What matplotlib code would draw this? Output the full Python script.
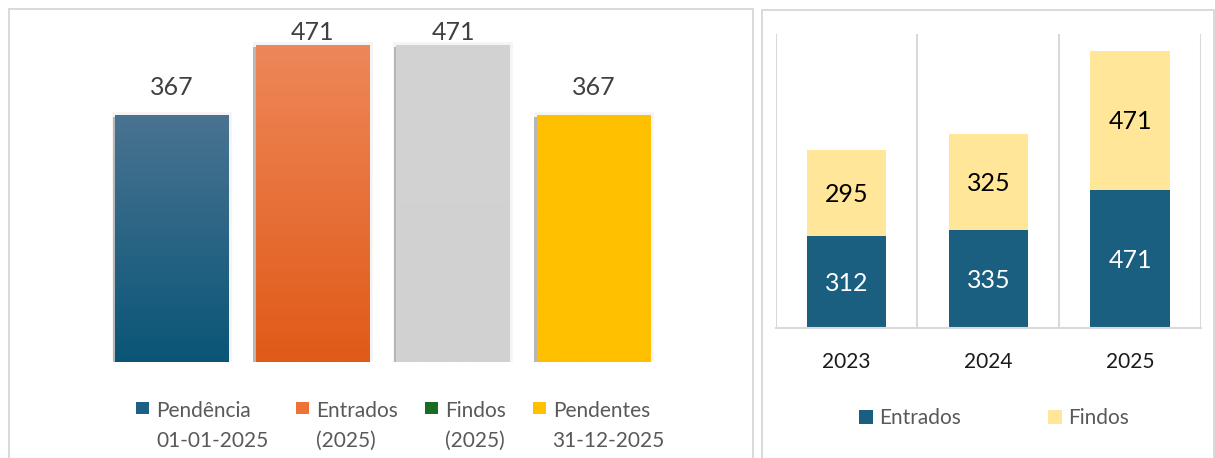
import numpy as np
import matplotlib
matplotlib.use("Agg")
import matplotlib.pyplot as plt
import matplotlib.patheffects as pe
from matplotlib.colors import to_rgb
from matplotlib.patches import Rectangle
from matplotlib.legend_handler import HandlerPatch

plt.rcParams['font.family'] = ['Lato', 'DejaVu Sans']

# --- left chart: movement in 2025 ---
mov_labels = ['Pendência\n01-01-2025', 'Entrados\n(2025)', 'Findos\n(2025)', 'Pendentes\n31-12-2025']
mov_values = [367, 471, 471, 367]
mov_top = ['#4A7391', '#EE8759', '#D3D3D3', '#FFC000']
mov_bottom = ['#0A5577', '#E05A18', '#D1D1D1', '#FFC000']
mov_legend = ['#1E6085', '#EE7236', '#1B6B22', '#FFC000']

# --- right chart: entrados / findos per year ---
years = ['2023', '2024', '2025']
entrados = [312, 335, 471]
findos = [295, 325, 471]

W, H = 1215, 458
fig = plt.figure(figsize=(W / 100, H / 100), dpi=100)


def fx(x):
    return x / W


def fy(y):
    return 1 - y / H


# panel borders
for x0, x1, y0 in [(8.5, 752.7, 9.5), (762, 1214, 10)]:
    fig.add_artist(Rectangle((fx(x0), -0.05), fx(x1 - x0), fy(y0) + 0.05,
                             transform=fig.transFigure, fill=False,
                             edgecolor='#D9D9D9', linewidth=1.4))

# ---------------- left ----------------
YMAX1 = 505
ax1 = fig.add_axes([fx(101.95), fy(361.7), fx(562), 339.7 / H])
x = np.arange(len(mov_values))
glow = [pe.Stroke(linewidth=4, foreground='#F4F4F4'),
        pe.SimplePatchShadow(offset=(-2.0, -1.4), shadow_rgbFace='#A8A8A8', alpha=0.8),
        pe.Normal()]
bars = ax1.bar(x, mov_values, width=0.81, color=mov_bottom, path_effects=glow, zorder=2)

# vertical gradient inside each bar
for rect, top, bot in zip(bars, mov_top, mov_bottom):
    t = np.linspace(0, 1, 256)[:, None]
    c0, c1 = np.array(to_rgb(top)), np.array(to_rgb(bot))
    grad = (c0 * (1 - t) + c1 * t).reshape(256, 1, 3)
    bx, bw, bh = rect.get_x(), rect.get_width(), rect.get_height()
    ax1.imshow(grad, extent=[bx, bx + bw, 0, bh], aspect='auto', origin='upper', zorder=3)

# labels sit above the bars, pushed down when they would leave the plot area
for xi, v in zip(x, mov_values):
    y_lab = min(v + 29.7, YMAX1 - 27)
    ax1.text(xi, y_lab, str(v), ha='center', va='baseline', fontsize=18, color='#404040')

ax1.set_xlim(-0.5, 3.5)
ax1.set_ylim(0, YMAX1)
ax1.axis('off')


class FirstLineSquare(HandlerPatch):
    # put the square next to the first line of a two-line label
    def __init__(self, lift, **kw):
        super().__init__(**kw)
        self.lift = lift

    def create_artists(self, legend, orig_handle, xdescent, ydescent,
                       width, height, fontsize, trans):
        p = Rectangle((-xdescent, self.lift), width, width,
                      facecolor=orig_handle.get_facecolor(), edgecolor='none',
                      transform=trans)
        return [p]


handles1 = [Rectangle((0, 0), 1, 1, facecolor=c) for c in mov_legend]
leg1 = fig.legend(handles1, mov_labels, loc='upper left',
                  bbox_to_anchor=(fx(136.4), fy(400.7)), bbox_transform=fig.transFigure,
                  ncol=4, frameon=False, fontsize=15, borderpad=0, borderaxespad=0,
                  handlelength=0.62, handleheight=0.66, handletextpad=0.34,
                  columnspacing=1.3, labelcolor='#595959',
                  handler_map={Rectangle: FirstLineSquare(lift=14.0)})
for t in leg1.get_texts():
    t.set_linespacing(1.65)

# ---------------- right ----------------
ax2 = fig.add_axes([fx(775.7), fy(328), fx(425.3), 294 / H])
xi = np.arange(len(years))
b1 = ax2.bar(xi, entrados, width=0.56, color='#1A5E80', label='Entrados', zorder=2)
b2 = ax2.bar(xi, findos, width=0.56, bottom=entrados, color='#FFE699', label='Findos', zorder=2)

for bars_, col in [(b1, 'white'), (b2, 'black')]:
    for r in bars_:
        h = r.get_height()
        ax2.annotate(f'{h:.0f}', (r.get_x() + r.get_width() / 2, r.get_y() + h / 2),
                     xytext=(0, -6.5), textcoords='offset points',
                     ha='center', va='baseline', fontsize=18, color=col)

ax2.set_xlim(-0.5, 2.5)
ax2.set_ylim(0, 1000)
ax2.set_xticks(xi)
ax2.set_xticklabels(years, fontsize=15, color='#1A1A1A')
ax2.set_xticks(np.arange(-0.5, 3, 1), minor=True)
ax2.tick_params(axis='x', which='both', length=0, pad=17)
ax2.set_yticks([])
ax2.grid(axis='x', which='minor', color='#D9D9D9', linewidth=1.5)
for s in ['left', 'right', 'top']:
    ax2.spines[s].set_visible(False)
ax2.spines['bottom'].set_color('#D9D9D9')
ax2.spines['bottom'].set_linewidth(1.5)
ax2.set_axisbelow(True)

fig.legend(handles=[b1, b2], loc='upper left',
           bbox_to_anchor=(fx(859), fy(408)), bbox_transform=fig.transFigure,
           ncol=2, frameon=False, fontsize=15, borderpad=0, borderaxespad=0,
           handlelength=0.65, handleheight=0.65, handletextpad=0.3,
           columnspacing=4.2, labelcolor='#595959')

fig.savefig('out.png', dpi=100)
